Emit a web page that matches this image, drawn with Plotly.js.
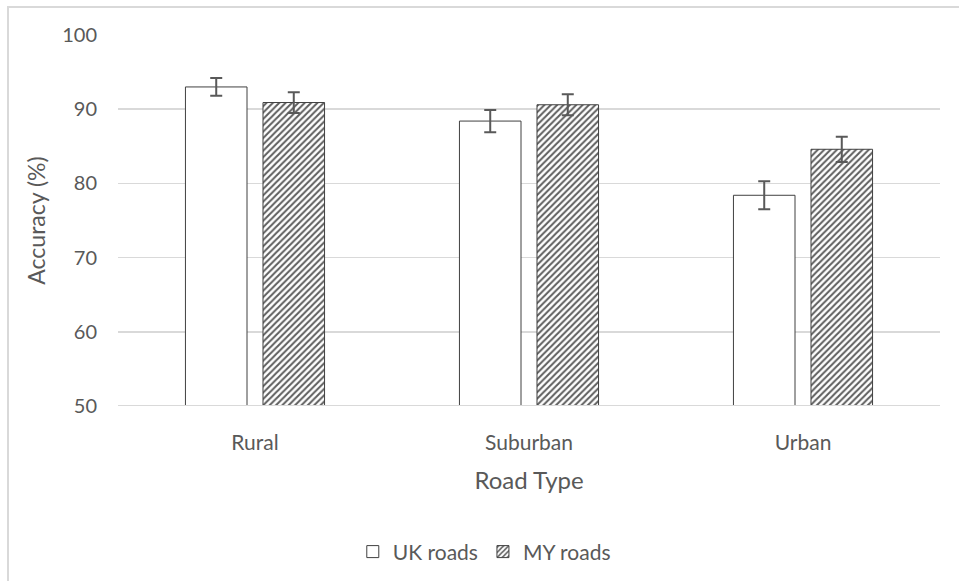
<!DOCTYPE html>
<html>
<head>
<meta charset="utf-8">
<script src="https://cdn.plot.ly/plotly-3.0.1.min.js"></script>
<style>
  html, body { margin: 0; padding: 0; background: #ffffff; }
  #wrap { position: relative; width: 959px; height: 581px; overflow: hidden; }
  #frame { position: absolute; left: 7px; top: 6px; width: 960px; height: 590px;
           border-top: 2px solid #d9d9d9; border-left: 2px solid #d9d9d9; pointer-events: none; }
  #chart { position: absolute; left: 0; top: 0; width: 959px; height: 581px; }
</style>
</head>
<body>
<div id="wrap">
  <div id="chart"></div>
  <div id="frame"></div>
</div>
<script>
const categories = ["Rural", "Suburban", "Urban"];
const ukValues = [93.0, 88.4, 78.4];
const ukErrors = [1.2, 1.5, 1.9];
const myValues = [90.9, 90.6, 84.6];
const myErrors = [1.4, 1.4, 1.7];
const seriesNames = ["UK roads", "MY roads"];
const yTicks = [50, 60, 70, 80, 90, 100];

const textColor = "#595959";
const fontFamily = "Lato, 'Open Sans', sans-serif";

const traces = [
  {
    type: "bar", name: seriesNames[0], x: categories, y: ukValues,
    marker: { color: "#ffffff", line: { color: "#404040", width: 1 } },
    error_y: { type: "data", array: ukErrors, visible: true, color: "#595959", thickness: 2, width: 6 }
  },
  {
    type: "bar", name: seriesNames[1], x: categories, y: myValues,
    marker: { color: "#ffffff", line: { color: "#404040", width: 1 },
              pattern: { shape: "/", fgcolor: "#5e5e5e", bgcolor: "#ffffff", size: 4.5, solidity: 0.45 } },
    error_y: { type: "data", array: myErrors, visible: true, color: "#595959", thickness: 2, width: 6 }
  }
];

const layout = {
  width: 959, height: 581,
  margin: { l: 118, r: 19, t: 35, b: 175, autoexpand: false },
  paper_bgcolor: "rgba(0,0,0,0)", plot_bgcolor: "#ffffff",
  font: { family: fontFamily, color: textColor, size: 20 },
  barmode: "group", bargap: 0.434, bargroupgap: 0.206,
  showlegend: true,
  legend: { orientation: "h", xref: "container", yref: "container",
            x: 0.505, xanchor: "center", y: 0.05, yanchor: "middle",
            font: { size: 21, color: textColor }, itemwidth: 30, traceorder: "normal" },
  xaxis: {
    type: "category", showgrid: false, zeroline: false, automargin: false,
    showline: false, ticks: "", ticklabelstandoff: 22,
    tickfont: { size: 21, color: textColor },
    title: { text: "Road Type", font: { size: 24, color: textColor }, standoff: 19 }
  },
  yaxis: {
    range: [50, 100], tickvals: yTicks, ticktext: yTicks.map(String), automargin: false,
    showgrid: true, gridcolor: "#d9d9d9", gridwidth: 1.5,
    zeroline: false, showline: false, ticks: "", ticklabelstandoff: 20,
    tickfont: { size: 20, color: textColor },
    title: { text: "Accuracy (%)", font: { size: 23, color: textColor }, standoff: 10 }
  },
  shapes: [
    { type: "line", xref: "paper", yref: "y", x0: 0, x1: 1, y0: 50, y1: 50,
      line: { color: "#d9d9d9", width: 2 }, layer: "above" }
  ]
};

Plotly.newPlot("chart", traces, layout, { displayModeBar: false, staticPlot: true });
</script>
</body>
</html>
